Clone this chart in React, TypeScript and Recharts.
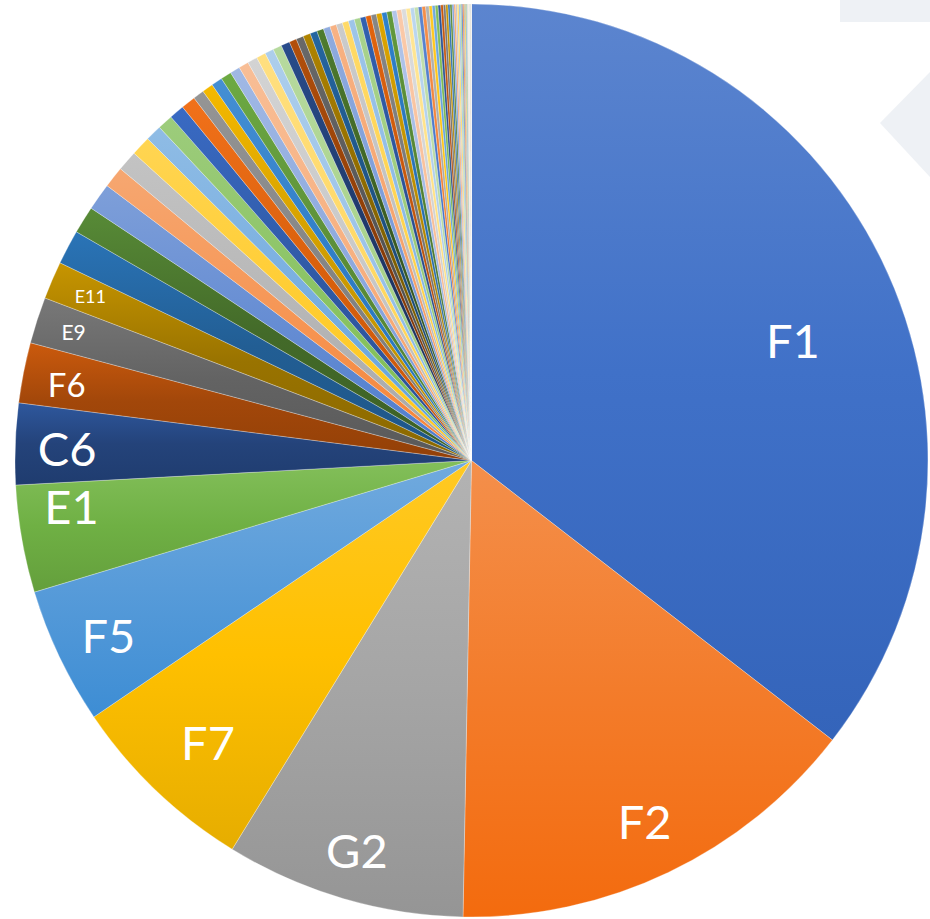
import { PieChart, Pie, Cell } from "recharts";

// labelled items, largest first (share in %)
const labeledNames = ["F1", "F2", "G2", "F7", "F5", "E1", "C6", "F6", "E9", "E11"];
const labeledShares = [35.42, 14.78, 8.47, 6.71, 4.83, 3.79, 2.87, 2.13, 1.64, 1.33];

// the unlabelled fan of small items that follows them
const midShares = [
  1.22, 0.97, 0.96, 0.75, 0.72, 0.69, 0.57, 0.54, 0.53, 0.51, 0.39, 0.39, 0.39,
  0.38, 0.35, 0.35, 0.35, 0.33, 0.31, 0.31, 0.31, 0.26, 0.26, 0.26, 0.25, 0.24,
];
const smallShares = [
  0.24, 0.23, 0.22, 0.22, 0.21, 0.21, 0.2, 0.19, 0.19, 0.19, 0.18, 0.18, 0.17,
  0.17, 0.16, 0.15, 0.14, 0.14, 0.13, 0.125, 0.12, 0.11, 0.105,
];
const tinyShares = [
  0.1, 0.095, 0.09, 0.083, 0.078, 0.072, 0.07, 0.067, 0.061, 0.056, 0.053, 0.05,
  0.044, 0.042, 0.039, 0.033, 0.031, 0.028, 0.025, 0.022, 0.019, 0.017, 0.014,
  0.014, 0.011, 0.011, 0.008, 0.008, 0.006, 0.006, 0.006, 0.003, 0.003, 0.003,
];

const shares = [...labeledShares, ...midShares, ...smallShares, ...tinyShares];
const data = shares.map((v, i) => ({ name: labeledNames[i] ?? `P${i + 1}`, value: v }));

// label size / placement (radius as fraction of outer radius, angle nudge in deg clockwise)
const labelStyles = [
  { size: 47, rf: 0.751, shift: 5.75 },
  { size: 47, rf: 0.878, shift: 0 },
  { size: 47, rf: 0.892, shift: 0 },
  { size: 47, rf: 0.846, shift: -0.7 },
  { size: 47, rf: 0.884, shift: -0.4 },
  { size: 47, rf: 0.882, shift: 3.3 },
  { size: 47, rf: 0.886, shift: -0.5 },
  { size: 33, rf: 0.902, shift: -0.5 },
  { size: 21, rf: 0.916, shift: 0 },
  { size: 18, rf: 0.909, shift: 0 },
];

// office theme accents + the tint/shade variations Excel cycles through
const accents = ["#4472C4", "#ED7D31", "#A5A5A5", "#FFC000", "#5B9BD5", "#70AD47"];
const variations = [
  [1, 0], [0.6, 0], [0.8, 0.2], [0.8, 0], [0.6, 0.4], [0.5, 0], [0.7, 0.3], [0.7, 0], [0.5, 0.5],
];

function hexToRgb(hex: string) {
  const n = parseInt(hex.slice(1), 16);
  return [(n >> 16) & 255, (n >> 8) & 255, n & 255];
}
function rgbToHex(r: number, g: number, b: number) {
  const c = (v: number) => Math.max(0, Math.min(255, Math.round(v))).toString(16).padStart(2, "0");
  return "#" + c(r) + c(g) + c(b);
}
// HSL tweak: scale saturation, scale + offset lightness
function hslMod(hex: string, sMul: number, lMul: number, lOff: number) {
  const [r, g, b] = hexToRgb(hex).map((v) => v / 255);
  const max = Math.max(r, g, b), min = Math.min(r, g, b);
  let h = 0, s = 0;
  let l = (max + min) / 2;
  if (max !== min) {
    const d = max - min;
    s = l > 0.5 ? d / (2 - max - min) : d / (max + min);
    if (max === r) h = (g - b) / d + (g < b ? 6 : 0);
    else if (max === g) h = (b - r) / d + 2;
    else h = (r - g) / d + 4;
    h /= 6;
  }
  l = Math.min(1, l * lMul + lOff);
  s = Math.min(1, s * sMul);
  const hue = (p: number, q: number, t: number) => {
    if (t < 0) t += 1;
    if (t > 1) t -= 1;
    if (t < 1 / 6) return p + (q - p) * 6 * t;
    if (t < 1 / 2) return q;
    if (t < 2 / 3) return p + (q - p) * (2 / 3 - t) * 6;
    return p;
  };
  if (s === 0) return rgbToHex(l * 255, l * 255, l * 255);
  const q = l < 0.5 ? l * (1 + s) : l + s - l * s;
  const p = 2 * l - q;
  return rgbToHex(hue(p, q, h + 1 / 3) * 255, hue(p, q, h) * 255, hue(p, q, h - 1 / 3) * 255);
}

const palette = variations.flatMap(([m, o]) => accents.map((c) => hslMod(c, 1, m, o)));

const RAD = Math.PI / 180;
const renderLabel = (props: any) => {
  const { cx, cy, midAngle, outerRadius, index } = props;
  if (index >= labeledNames.length) return null;
  const st = labelStyles[index];
  const a = (midAngle - st.shift) * RAD;
  const r = outerRadius * st.rf;
  const x = cx + r * Math.cos(a);
  const y = cy - r * Math.sin(a);
  return (
    <text
      key={`lbl-${index}`}
      x={x}
      y={y + st.size * 0.36}
      textAnchor="middle"
      fill="#ffffff"
      fontSize={st.size}
      fontFamily="Lato, 'Open Sans', sans-serif"
    >
      {labeledNames[index]}
    </text>
  );
};

export default function App() {
  return (
    <div style={{ position: "absolute", left: 0, top: 0, width: 930, height: 919, background: "#fff" }}>
      {/* faint shapes in the top-right corner of the screenshot */}
      <svg width={930} height={919} style={{ position: "absolute", left: 0, top: 0 }}>
        <rect x={840} y={0} width={90} height={22} fill="#EEF1F5" />
        <polygon points="880,123 930,72 930,177" fill="#EEF1F5" />
      </svg>
      <div style={{ position: "absolute", left: 0, top: 0 }}>
        <PieChart width={930} height={919} margin={{ top: 0, right: 0, bottom: 0, left: 0 }}>
          <defs>
            {palette.map((c, i) => (
              <linearGradient key={i} id={`grad-${i}`} x1="0" y1="0" x2="0" y2="1">
                <stop offset="0%" stopColor={hslMod(c, 1.05, 0.9, 0.12)} />
                <stop offset="50%" stopColor={hslMod(c, 1.06, 1, 0)} />
                <stop offset="100%" stopColor={hslMod(c, 1.08, 0.9, 0)} />
              </linearGradient>
            ))}
          </defs>
          <Pie
            data={data}
            dataKey="value"
            nameKey="name"
            cx={471.5}
            cy={460.5}
            outerRadius={456.5}
            startAngle={90}
            endAngle={-270}
            stroke="#ffffff"
            strokeWidth={0.5}
            strokeOpacity={0.55}
            label={renderLabel}
            labelLine={false}
            isAnimationActive={false}
          >
            {data.map((d, i) => (
              <Cell key={`cell-${i}`} fill={`url(#grad-${i % palette.length})`} />
            ))}
          </Pie>
        </PieChart>
      </div>
    </div>
  );
}
